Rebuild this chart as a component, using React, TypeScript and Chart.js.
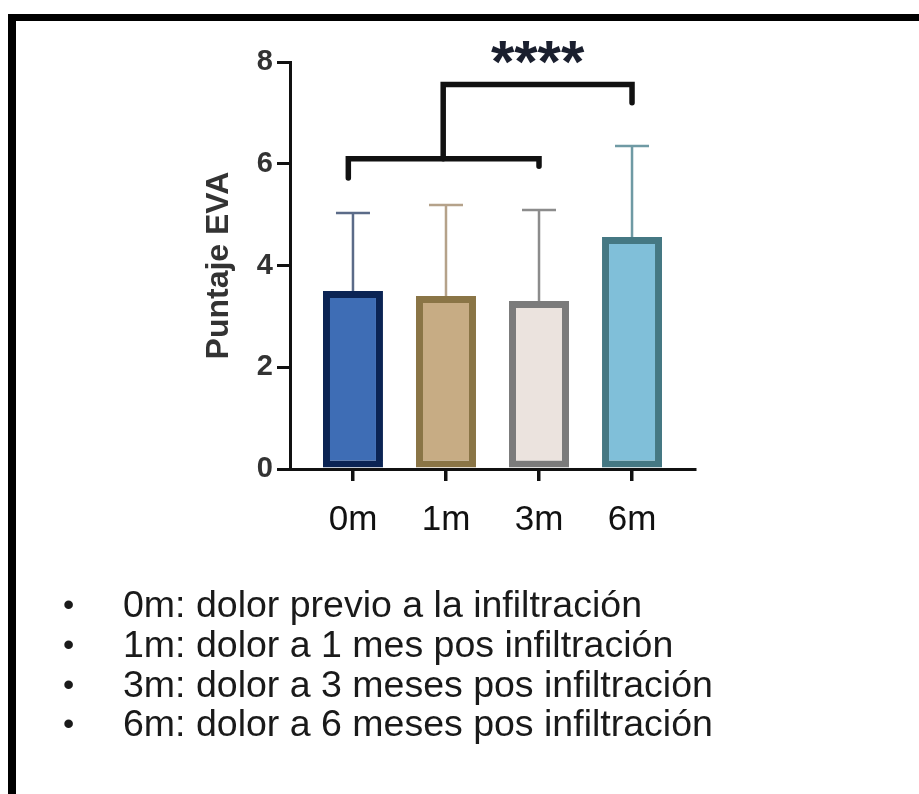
import React, { useEffect, useRef } from 'react';
import { Chart, registerables } from 'chart.js';

Chart.register(...registerables);

const categories = ['0m', '1m', '3m', '6m'];
const means = [3.5, 3.4, 3.3, 4.56];
const sds = [1.53, 1.79, 1.79, 1.79];
const yTicks = [0, 2, 4, 6, 8];
const fillColors = ['#3E6DB5', '#C7AC84', '#EBE3DE', '#80BFD9'];
const borderColors = ['#0B2454', '#8A7546', '#7B7B7B', '#457883'];
const errColors = ['#5B6B88', '#B5A28A', '#8C8C8C', '#6F9AA4'];

// significance brackets (data units)
const lowerBracketSpan = [-0.05, 2];
const lowerBracketLevel = 6.1;
const lowerBracketEnds = [5.72, 5.95];
const upperBracketSpan = [0.97, 3];
const upperBracketLevel = 7.56;
const upperBracketEnd = 7.2;
const starsLabel = '****';
const starsLevel = 8.3;

const legendLines = [
  '0m: dolor previo a la infiltración',
  '1m: dolor a 1 mes pos infiltración',
  '3m: dolor a 3 meses pos infiltración',
  '6m: dolor a 6 meses pos infiltración',
];

const FONT = '"Liberation Sans", Arial, sans-serif';

const annotPlugin = {
  id: 'annot',
  afterDatasetsDraw(chart: any) {
    const { ctx, scales } = chart;
    const x = scales.x;
    const y = scales.y;
    ctx.save();
    means.forEach((m, i) => {
      const px = x.getPixelForValue(i);
      const base = y.getPixelForValue(m);
      const top = y.getPixelForValue(m + sds[i]);
      ctx.strokeStyle = errColors[i];
      ctx.lineWidth = 2.5;
      ctx.lineCap = 'butt';
      ctx.beginPath();
      ctx.moveTo(px, base);
      ctx.lineTo(px, top);
      ctx.moveTo(px - 17, top);
      ctx.lineTo(px + 17, top);
      ctx.stroke();
    });
    ctx.strokeStyle = '#111';
    ctx.lineWidth = 5.5;
    ctx.lineCap = 'round';
    ctx.lineJoin = 'miter';
    ctx.beginPath();
    ctx.moveTo(x.getPixelForValue(lowerBracketSpan[0]), y.getPixelForValue(lowerBracketEnds[0]));
    ctx.lineTo(x.getPixelForValue(lowerBracketSpan[0]), y.getPixelForValue(lowerBracketLevel));
    ctx.lineTo(x.getPixelForValue(lowerBracketSpan[1]), y.getPixelForValue(lowerBracketLevel));
    ctx.lineTo(x.getPixelForValue(lowerBracketSpan[1]), y.getPixelForValue(lowerBracketEnds[1]));
    ctx.stroke();
    ctx.beginPath();
    ctx.moveTo(x.getPixelForValue(upperBracketSpan[0]), y.getPixelForValue(lowerBracketLevel));
    ctx.lineTo(x.getPixelForValue(upperBracketSpan[0]), y.getPixelForValue(upperBracketLevel));
    ctx.lineTo(x.getPixelForValue(upperBracketSpan[1]), y.getPixelForValue(upperBracketLevel));
    ctx.lineTo(x.getPixelForValue(upperBracketSpan[1]), y.getPixelForValue(upperBracketEnd));
    ctx.stroke();
    const fs = 60;
    ctx.font = `bold ${fs}px ${FONT}`;
    ctx.fillStyle = '#1a1f2e';
    ctx.textAlign = 'center';
    ctx.textBaseline = 'alphabetic';
    const cx = (x.getPixelForValue(upperBracketSpan[0]) + x.getPixelForValue(upperBracketSpan[1])) / 2;
    ctx.fillText(starsLabel, cx, y.getPixelForValue(starsLevel) + fs * 0.58);
    ctx.restore();
  },
};

export default function App() {
  const ref = useRef<HTMLCanvasElement>(null);
  useEffect(() => {
    if (!ref.current) return;
    const chart = new Chart(ref.current, {
      type: 'bar',
      data: {
        datasets: [
          {
            data: means.map((m, i) => ({ x: i, y: m })),
            backgroundColor: fillColors,
            borderColor: borderColors,
            borderWidth: 7,
            borderSkipped: false,
            barPercentage: 0.645,
            categoryPercentage: 1,
          },
        ],
      },
      options: {
        responsive: false,
        animation: false,
        devicePixelRatio: 1,
        layout: { padding: { left: 0, top: 62, right: 224, bottom: 255 } },
        plugins: { legend: { display: false }, tooltip: { enabled: false } },
        scales: {
          x: {
            type: 'linear',
            min: -0.677,
            max: 3.677,
            offset: false,
            ticks: {
              stepSize: 1,
              includeBounds: false,
              autoSkip: false,
              maxRotation: 0,
              callback: (v: any) => categories[v] ?? '',
              font: { family: FONT, size: 35 },
              color: '#111',
              padding: 18,
            },
            grid: { display: true, offset: false, drawOnChartArea: false, drawTicks: true, tickLength: 12, lineWidth: 3.5, color: '#111' },
            border: { display: true, width: 3, color: '#111' },
            afterFit(s: any) { s.height = 70; },
          },
          y: {
            min: 0,
            max: 8,
            afterBuildTicks(s: any) { s.ticks = yTicks.map((v) => ({ value: v })); },
            ticks: {
              font: { family: FONT, size: 29, weight: 'bold' },
              color: '#333',
              padding: 4,
            },
            grid: { display: true, drawOnChartArea: false, drawTicks: true, tickLength: 13, lineWidth: 3, color: '#111' },
            border: { display: true, width: 3, color: '#111' },
            title: {
              display: true,
              text: 'Puntaje EVA',
              font: { family: FONT, size: 32, weight: 'bold' },
              color: '#333',
              padding: { top: 200, bottom: 0 },
            },
            afterFit(s: any) { s.width = 290; },
          },
        },
      },
      plugins: [annotPlugin],
    } as any);
    return () => chart.destroy();
  }, []);

  const lineCenters = [604, 644, 684, 723];
  return (
    <div style={{ position: 'absolute', left: 0, top: 0, width: 919, height: 794, background: '#fff', overflow: 'hidden' }}>
      <canvas ref={ref} width={919} height={794} style={{ position: 'absolute', left: 0, top: 0, width: 919, height: 794 }} />
      <div style={{ position: 'absolute', left: 8, top: 14, width: 911, height: 7, background: '#000' }} />
      <div style={{ position: 'absolute', left: 8, top: 14, width: 8, height: 780, background: '#000' }} />
      {legendLines.map((t, i) => (
        <div key={i} style={{ position: 'absolute', left: 0, top: lineCenters[i] - 20, height: 40, lineHeight: '40px', fontFamily: FONT, fontSize: 37.5, color: '#1a1a1a', whiteSpace: 'nowrap' }}>
          <span style={{ position: 'absolute', left: 63, top: 0, fontSize: 32 }}>•</span>
          <span style={{ position: 'absolute', left: 123, top: 0 }}>{t}</span>
        </div>
      ))}
    </div>
  );
}
